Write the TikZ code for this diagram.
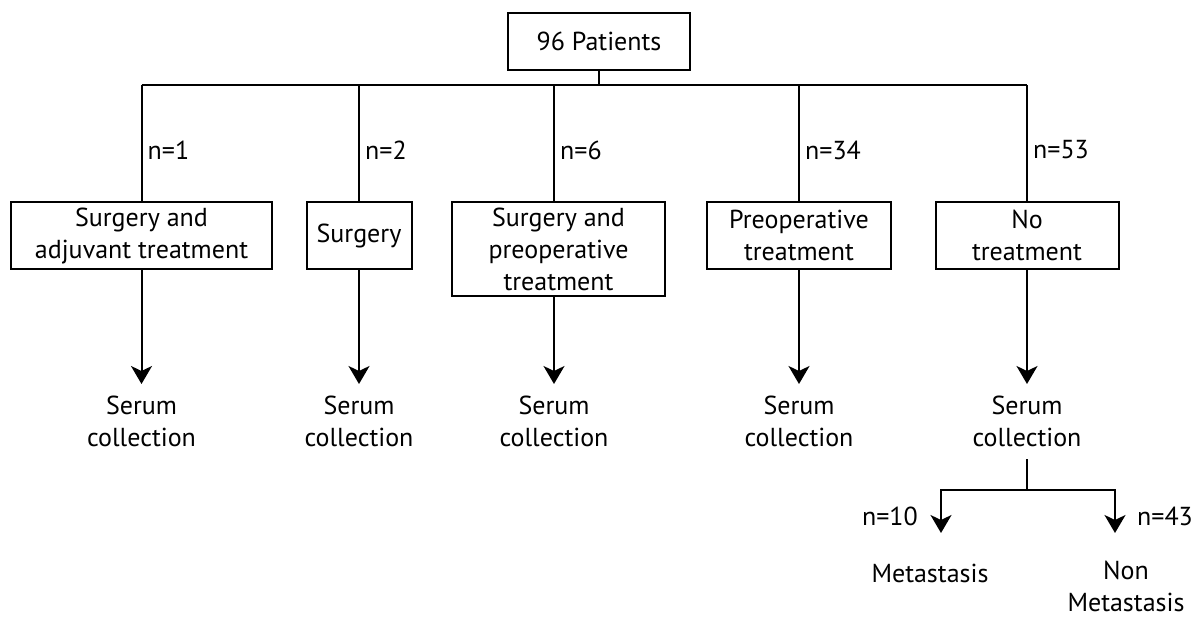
\documentclass[tikz,border=0pt]{standalone}
\usepackage{fontspec}
\setmainfont{PT Sans}
\usetikzlibrary{arrows.meta}
\begin{document}
\begin{tikzpicture}[x=1pt,y=-1pt,
  box/.style={draw,line width=2pt,align=center,inner sep=0pt,font=\fontsize{26}{32}\selectfont},
  lbl/.style={align=center,inner sep=0pt,font=\fontsize{26}{32}\selectfont},
  conn/.style={line width=2pt},
  arr/.style={line width=2pt,-{Stealth[length=18pt,width=21pt,inset=5pt]}}]
\useasboundingbox (0,0) rectangle (1194,618);
% top
\node[box,minimum width=182pt,minimum height=57pt] (top) at (599,41.5) {96 Patients};
\coordinate (bus) at (599,85);
\coordinate (c1) at (141.5,85);
\coordinate (c2) at (359,85);
\coordinate (c3) at (554,85);
\coordinate (c4) at (799,85);
\coordinate (c5) at (1027,85);
\draw[conn] (top.south) -- (bus);
\draw[conn] (c1) -- (c5);
% boxes
\node[box,minimum width=261pt,minimum height=67pt] (b1) at (141.5,235.5) {Surgery and\\adjuvant treatment};
\node[box,minimum width=105pt,minimum height=67pt] (b2) at (359,235.5) {Surgery};
\node[box,minimum width=213pt,minimum height=94pt] (b3) at (558.5,249) {Surgery and\\preoperative\\treatment};
\node[box,minimum width=184pt,minimum height=67pt] (b4) at (799,235.5) {Preoperative\\treatment};
\node[box,minimum width=183pt,minimum height=67pt] (b5) at (1027,235.5) {No\\treatment};
\draw[conn] (c1) -- (b1.north);
\draw[conn] (c2) -- (b2.north);
\draw[conn] (c3) -- (c3 |- b3.north);
\draw[conn] (c4) -- (b4.north);
\draw[conn] (c5) -- (b5.north);
% n labels
\node[lbl,anchor=west] (n1) at (147.5,150) {n=1};
\node[lbl,anchor=west] (n2) at (365,150) {n=2};
\node[lbl,anchor=west] (n3) at (560,150) {n=6};
\node[lbl,anchor=west] (n4) at (805,150) {n=34};
\node[lbl,anchor=west] (n5) at (1033,150) {n=53};
% serum
\node[lbl,anchor=north,inner ysep=12pt] (s1) at (141.5,384) {Serum\\collection};
\node[lbl,anchor=north,inner ysep=12pt] (s2) at (359,384) {Serum\\collection};
\node[lbl,anchor=north,inner ysep=12pt] (s3) at (554,384) {Serum\\collection};
\node[lbl,anchor=north,inner ysep=12pt] (s4) at (799,384) {Serum\\collection};
\node[lbl,anchor=north,inner ysep=12pt] (s5) at (1027,384) {Serum\\collection};
\draw[arr] (b1.south) -- (s1.north);
\draw[arr] (b2.south) -- (s2.north);
\draw[arr] (c3 |- b3.south) -- (s3.north);
\draw[arr] (b4.south) -- (s4.north);
\draw[arr] (b5.south) -- (s5.north);
% split
\coordinate (j) at (1027,490);
\coordinate (tm) at (941,533);
\coordinate (tn) at (1115,533);
\draw[conn] (s5.south) -- (j);
\draw[arr] (j) -| (tm);
\draw[arr] (j) -| (tn);
\node[lbl,anchor=east] (n10) at (918,516) {n=10};
\node[lbl,anchor=west] (n43) at (1137,516) {n=43};
\node[lbl] (met) at (930,573) {Metastasis};
\node[lbl,anchor=north] (non) at (1126,561) {Non\\Metastasis};
\end{tikzpicture}
\end{document}
